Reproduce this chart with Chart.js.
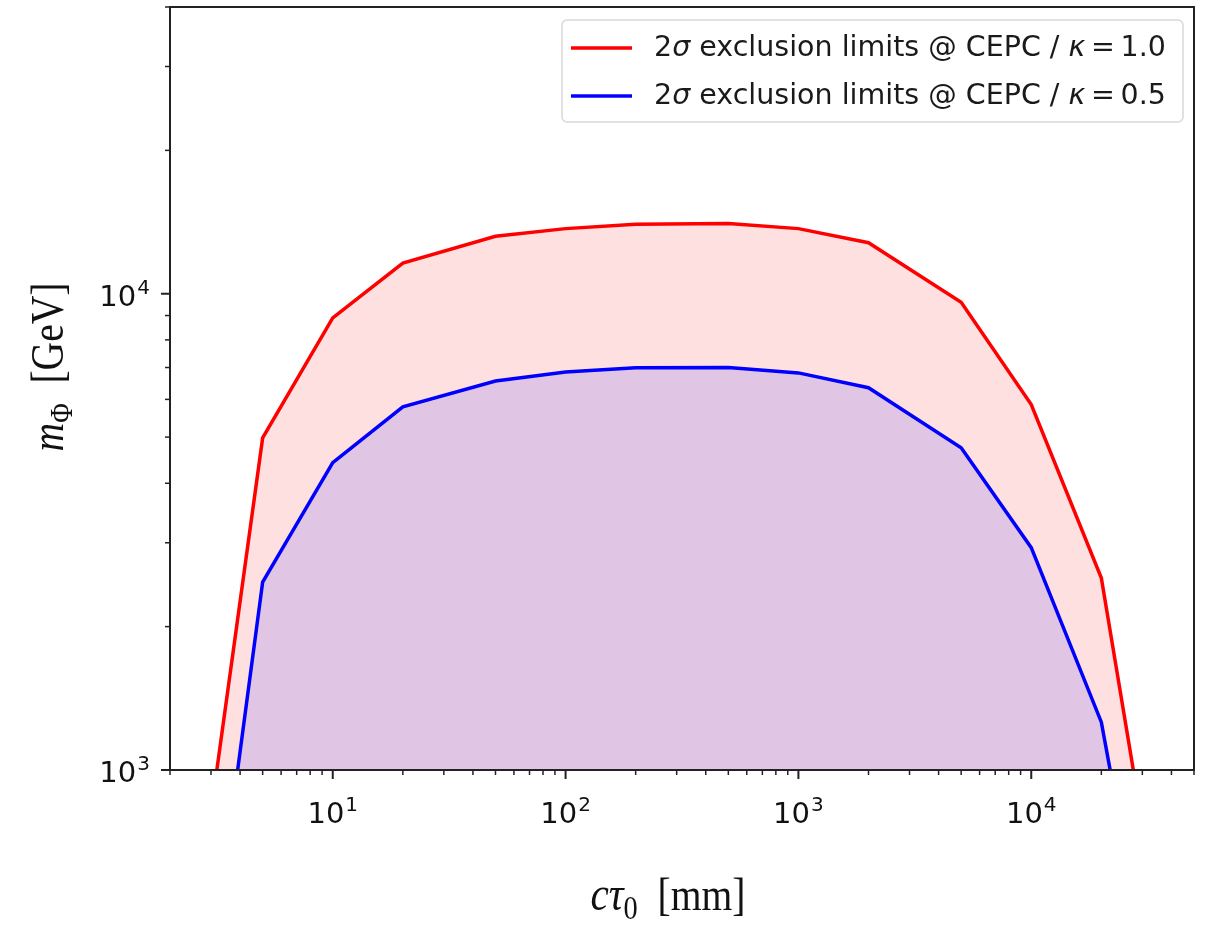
<!DOCTYPE html>
<html>
<head>
<meta charset="utf-8">
<script src="https://cdn.jsdelivr.net/npm/chart.js@4.4.1/dist/chart.umd.min.js"></script>
<style>
  html, body { margin: 0; padding: 0; background: #fff; }
  #wrap { width: 1206px; height: 925px; position: relative; }
</style>
</head>
<body>
<div id="wrap"><canvas id="limitsChart"></canvas></div>
<script>
// decay length c*tau0 in mm
const CT0 = [3, 5, 10, 20, 50, 100, 200, 500, 1000, 2000, 5000, 10000, 20000, 30000];
// 2 sigma exclusion on m_Phi (GeV)
const M_KAPPA_10 = [815, 4980, 8900, 11600, 13200, 13700, 14000, 14050, 13700, 12800, 9600, 5850, 2530, 770];
const M_KAPPA_05 = [380, 2480, 4420, 5790, 6560, 6850, 6990, 7000, 6820, 6350, 4750, 2930, 1260, 430];

const X_MAJOR_EXP = [1, 2, 3, 4];
const Y_MAJOR_EXP = [3, 4];

const LEGEND_LABELS = [
    { color: 'rgb(255, 0, 0)', kappa: '1.0' },
    { color: 'rgb(0, 0, 255)', kappa: '0.5' }
];

const toPoints = (ys) => CT0.map((x, i) => ({ x, y: ys[i] }));

const SANS = '"DejaVu Sans", sans-serif';
const SERIF = '"Liberation Serif", "DejaVu Serif", serif';

// draw "10" with a raised exponent, anchored by its centre or right edge
function drawPow10(ctx, exp, x, baseline, align) {
    ctx.font = `29px ${SANS}`;
    const wBase = ctx.measureText('10').width;
    ctx.font = `20px ${SANS}`;
    const wExp = ctx.measureText(String(exp)).width;
    const total = wBase + 1 + wExp;
    let left = align === 'center' ? x - total / 2 : x - total;
    ctx.textAlign = 'left';
    ctx.textBaseline = 'alphabetic';
    ctx.fillStyle = '#111';
    ctx.font = `29px ${SANS}`;
    ctx.fillText('10', left, baseline);
    ctx.font = `20px ${SANS}`;
    ctx.fillText(String(exp), left + wBase + 1, baseline - 12);
}

// pieces of text drawn one after another: [text, font, dy]
function drawRun(ctx, parts, x, y) {
    let cx = x;
    parts.forEach(([txt, font, dy]) => {
        ctx.font = font;
        ctx.fillText(txt, cx, y + (dy || 0));
        cx += ctx.measureText(txt).width;
    });
    return cx - x;
}
function runWidth(ctx, parts) {
    let w = 0;
    parts.forEach(([txt, font]) => { ctx.font = font; w += ctx.measureText(txt).width; });
    return w;
}

const axesDecor = {
    id: 'axesDecor',
    afterDraw(chart) {
        const { ctx, chartArea: a, scales } = chart;
        const xs = scales.x, ys = scales.y;
        ctx.save();

        // tick marks
        ctx.strokeStyle = '#222';
        const tick = (x1, y1, x2, y2, w) => {
            ctx.lineWidth = w;
            ctx.beginPath(); ctx.moveTo(x1, y1); ctx.lineTo(x2, y2); ctx.stroke();
        };
        for (let e = 0; e <= 4; e++) {
            for (let k = 1; k <= 9; k++) {
                const v = k * Math.pow(10, e);
                if (v < xs.min || v > xs.max) continue;
                const px = xs.getPixelForValue(v);
                tick(px, a.bottom, px, a.bottom + (k === 1 ? 9 : 5), k === 1 ? 2 : 1.5);
            }
        }
        for (let e = 3; e <= 4; e++) {
            for (let k = 1; k <= 9; k++) {
                const v = k * Math.pow(10, e);
                if (v < ys.min || v > ys.max) continue;
                const py = ys.getPixelForValue(v);
                tick(a.left, py, a.left - (k === 1 ? 9 : 5), py, k === 1 ? 2 : 1.5);
            }
        }

        // frame
        ctx.lineWidth = 2;
        ctx.strokeStyle = '#222';
        ctx.strokeRect(a.left, a.top, a.right - a.left, a.bottom - a.top);

        // tick labels
        X_MAJOR_EXP.forEach(e => {
            drawPow10(ctx, e, xs.getPixelForValue(Math.pow(10, e)), a.bottom + 53, 'center');
        });
        Y_MAJOR_EXP.forEach(e => {
            drawPow10(ctx, e, a.left - 20, ys.getPixelForValue(Math.pow(10, e)) + 12, 'right');
        });

        // axis titles (serif, squeezed a little horizontally)
        ctx.fillStyle = '#111';
        ctx.textBaseline = 'alphabetic';
        ctx.textAlign = 'left';
        const squeeze = 0.86;
        const xTitle = [
            ['c\u03C4', `italic 48px ${SERIF}`],
            ['0', `33px ${SERIF}`, 9],
            ['  [mm]', `46px ${SERIF}`]
        ];
        const xw = runWidth(ctx, xTitle) * squeeze;
        ctx.save();
        ctx.translate((a.left + a.right) / 2 - xw / 2 - 14, 910);
        ctx.scale(squeeze, 1);
        drawRun(ctx, xTitle, 0, 0);
        ctx.restore();

        const yTitle = [
            ['m', `italic 46px ${SERIF}`],
            ['\u03A6', `31px ${SERIF}`, 9],
            ['  [GeV]', `46px ${SERIF}`]
        ];
        const yw = runWidth(ctx, yTitle) * squeeze;
        ctx.save();
        ctx.translate(63, 367);
        ctx.rotate(-Math.PI / 2);
        ctx.scale(squeeze, 1);
        drawRun(ctx, yTitle, -yw / 2 / squeeze, 0);
        ctx.restore();

        // legend
        const box = { x: 562, y: 20, w: 621, h: 102 };
        ctx.beginPath();
        ctx.roundRect(box.x, box.y, box.w, box.h, 5);
        ctx.fillStyle = 'rgba(255,255,255,0.8)';
        ctx.fill();
        ctx.lineWidth = 1.5;
        ctx.strokeStyle = '#d8d8d8';
        ctx.stroke();
        LEGEND_LABELS.forEach((item, i) => {
            const cy = 48 + i * 48;
            ctx.strokeStyle = item.color;
            ctx.lineWidth = 3.5;
            ctx.beginPath(); ctx.moveTo(571, cy); ctx.lineTo(632, cy); ctx.stroke();
            ctx.fillStyle = '#1a1a1a';
            ctx.textBaseline = 'middle';
            drawRun(ctx, [
                ['2', `28.5px ${SANS}`],
                ['\u03C3', `oblique 28.5px ${SANS}`],
                [' exclusion limits @ CEPC / ', `28.5px ${SANS}`],
                ['\u03BA', `oblique 28.5px ${SANS}`],
                ['\u2009=\u2009' + item.kappa, `28.5px ${SANS}`]
            ], 654, cy + 1);
        });

        ctx.restore();
    }
};

new Chart(document.getElementById('limitsChart'), {
    type: 'line',
    data: {
        datasets: [
            {
                label: '2\u03C3 exclusion limits @ CEPC / \u03BA = 1.0',
                data: toPoints(M_KAPPA_10),
                borderColor: 'rgb(255, 0, 0)',
                backgroundColor: 'rgba(255, 0, 0, 0.12)',
                borderWidth: 3.5,
                pointRadius: 0,
                tension: 0,
                fill: 'start',
                order: 1
            },
            {
                label: '2\u03C3 exclusion limits @ CEPC / \u03BA = 0.5',
                data: toPoints(M_KAPPA_05),
                borderColor: 'rgb(0, 0, 255)',
                backgroundColor: 'rgba(0, 0, 255, 0.12)',
                borderWidth: 3.5,
                pointRadius: 0,
                tension: 0,
                fill: 'start',
                order: 0
            }
        ]
    },
    options: {
        responsive: true,
        maintainAspectRatio: false,
        animation: false,
        layout: { padding: { left: 170, right: 12, top: 7, bottom: 155 } },
        scales: {
            x: { type: 'logarithmic', min: 2, max: 50000, display: false },
            y: { type: 'logarithmic', min: 1000, max: 40000, display: false }
        },
        plugins: {
            filler: { drawTime: 'beforeDatasetsDraw' },
            legend: { display: false },
            tooltip: { enabled: false }
        }
    },
    plugins: [axesDecor]
});
</script>
</body>
</html>
